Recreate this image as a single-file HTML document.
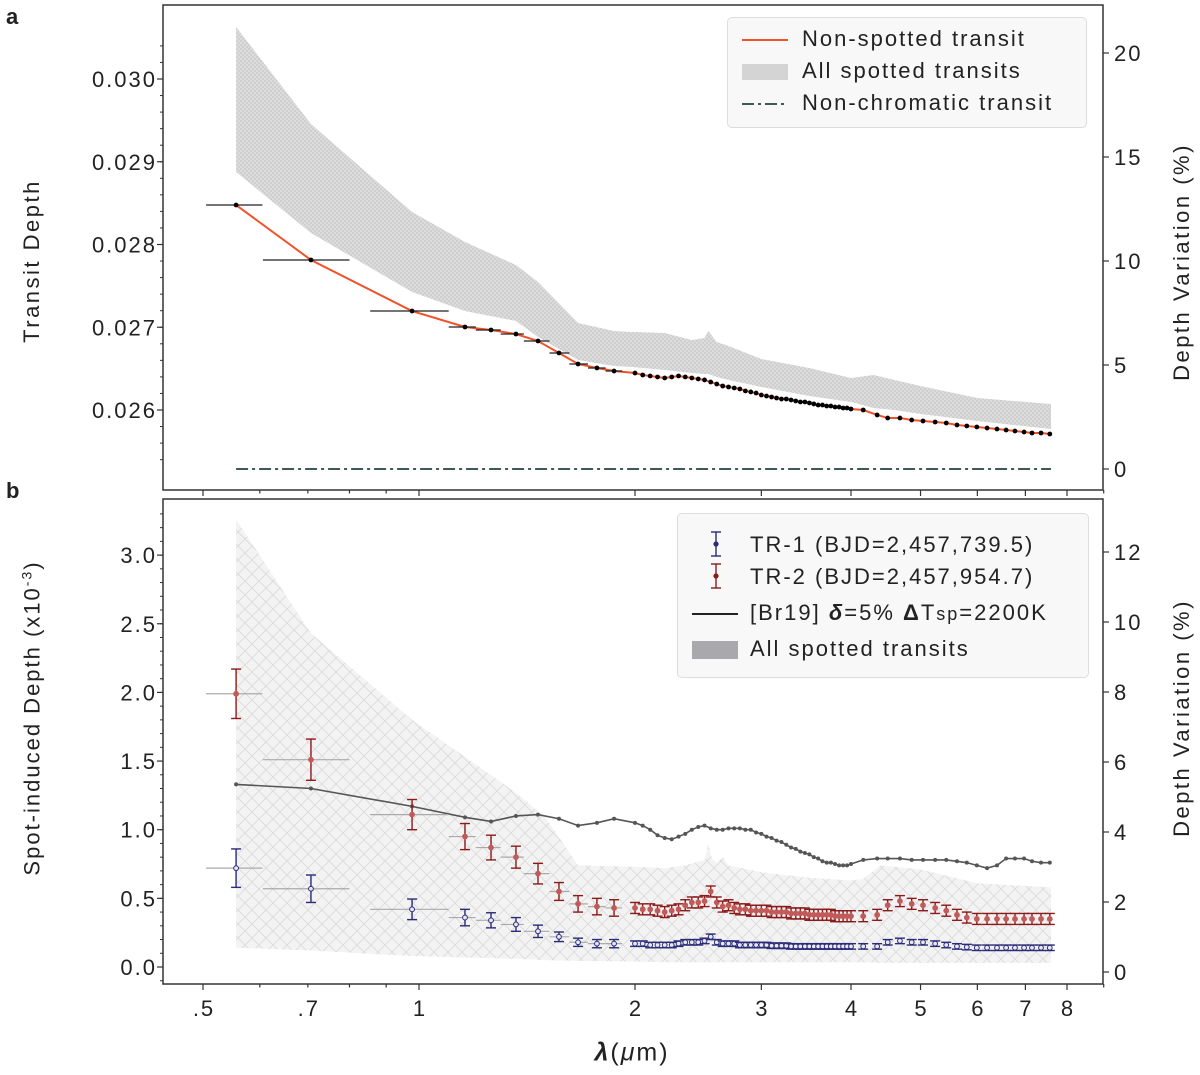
<!DOCTYPE html>
<html><head><meta charset="utf-8"><style>
body{margin:0;background:#fff;}
svg{display:block;font-family:"Liberation Sans",sans-serif;}
svg text{letter-spacing:2px;}
</style></head><body>
<svg id="fig" width="1200" height="1075" viewBox="0 0 1200 1075">
<defs>
<pattern id="checkA" width="4" height="4" patternUnits="userSpaceOnUse">
<rect width="4" height="4" fill="#dcdcdc"/><rect width="2" height="2" fill="#cfcfcf"/><rect x="2" y="2" width="2" height="2" fill="#cfcfcf"/>
</pattern>
<pattern id="crossB" width="14" height="14" patternUnits="userSpaceOnUse">
<rect width="14" height="14" fill="#f3f3f3"/><path d="M0 0L14 14M14 0L0 14" stroke="#dadada" stroke-width="0.8"/>
</pattern>
</defs>
<g id="root"></g>
</svg>
<script>
// ---- Panel a data ----
const lamEarly = [0.556,0.707,0.978,1.159,1.26,1.365,1.465,1.567,1.666,1.77,1.87];
const lamLo = [0.505,0.606,0.855,1.10,1.20,1.30,1.40,1.52,1.62,1.72,1.82];
const lamHi = [0.605,0.80,1.10,1.20,1.30,1.40,1.52,1.62,1.72,1.82,1.92];
const lamDense = [2.00,2.05,2.10,2.15,2.20,2.25,2.30,2.35,2.40,2.45,2.50,2.55,2.60,2.65,2.70,2.75,2.80,2.85,2.90,2.95,3.00,3.05,3.10,3.15,3.20,3.25,3.30,3.35,3.40,3.45,3.50,3.55,3.60,3.65,3.70,3.75,3.80,3.85,3.90,3.95,4.00];
const lamLate = [4.16,4.35,4.50,4.68,4.86,5.04,5.24,5.43,5.62,5.80,5.99,6.19,6.39,6.58,6.77,6.97,7.15,7.36,7.57];
const depthEarly = [0.028477,0.027813,0.027196,0.027003,0.026967,0.026918,0.026834,0.026689,0.026556,0.026508,0.026471];
const depthDense = [0.026447,0.026423,0.026411,0.026399,0.026387,0.026399,0.026411,0.026399,0.026387,0.026375,0.026363,0.026338,0.026314,0.026290,0.026278,0.026266,0.026254,0.026230,0.026218,0.026205,0.026181,0.026169,0.026157,0.026145,0.026133,0.026133,0.026121,0.026109,0.026097,0.026097,0.026085,0.026073,0.026060,0.026060,0.026048,0.026048,0.026036,0.026036,0.026024,0.026024,0.026012];
const depthLate = [0.026000,0.025940,0.025903,0.025903,0.025879,0.025867,0.025855,0.025843,0.025819,0.025807,0.025795,0.025782,0.025770,0.025758,0.025746,0.025734,0.025722,0.025722,0.025710];
const bandALam = [0.556,0.707,0.978,1.159,1.365,1.465,1.666,1.87,1.98,2.2,2.4,2.5,2.53,2.6,2.7,3.0,3.5,4.0,4.3,4.6,5.0,6.0,7.6];
const bandAUpper = [0.030628,0.029456,0.028393,0.028030,0.027752,0.027547,0.027051,0.026955,0.026943,0.026931,0.026846,0.026870,0.026955,0.026822,0.026773,0.026616,0.026508,0.026387,0.026423,0.026363,0.026290,0.026145,0.026073];
const bandALower = [0.028876,0.028139,0.027426,0.027196,0.027076,0.026882,0.026604,0.026532,0.026520,0.026483,0.026447,0.026435,0.026435,0.026399,0.026363,0.026278,0.026169,0.026097,0.026024,0.026000,0.025952,0.025867,0.025770];
const nonChromLam = [0.556,7.6];
const nonChromPct = [0,0];
const aLeftTicks = [0.026,0.027,0.028,0.029,0.030];
const aLeftLabels = ["0.026","0.027","0.028","0.029","0.030"];
const aRightTicks = [0,5,10,15,20];
// ---- Panel b data ----
const tr2Early = [1.99,1.51,1.11,0.95,0.87,0.80,0.68,0.55,0.46,0.44,0.43];
const tr2EarlyErr = [0.18,0.15,0.11,0.095,0.09,0.08,0.075,0.065,0.06,0.06,0.06];
const tr1Early = [0.72,0.57,0.42,0.36,0.34,0.31,0.26,0.22,0.18,0.17,0.17];
const tr1EarlyErr = [0.14,0.10,0.075,0.06,0.055,0.05,0.045,0.035,0.03,0.03,0.03];
const modelEarly = [1.33,1.30,1.17,1.09,1.06,1.10,1.11,1.08,1.03,1.05,1.08];
const tr2Dense = [0.43,0.42,0.42,0.41,0.40,0.41,0.42,0.45,0.47,0.47,0.48,0.55,0.47,0.44,0.45,0.43,0.42,0.42,0.41,0.41,0.41,0.41,0.40,0.40,0.40,0.40,0.39,0.39,0.39,0.39,0.38,0.38,0.38,0.38,0.38,0.38,0.37,0.37,0.37,0.37,0.37];
const tr1Dense = [0.17,0.17,0.16,0.16,0.16,0.16,0.17,0.18,0.18,0.18,0.19,0.22,0.18,0.17,0.17,0.17,0.16,0.16,0.16,0.16,0.16,0.16,0.155,0.155,0.155,0.155,0.15,0.15,0.15,0.15,0.15,0.15,0.15,0.15,0.15,0.15,0.15,0.15,0.15,0.15,0.15];
const modelDense = [1.05,1.03,1.00,0.96,0.94,0.93,0.95,0.97,1.00,1.02,1.03,1.01,1.00,1.00,1.01,1.01,1.01,1.00,1.00,0.98,0.97,0.95,0.94,0.92,0.91,0.89,0.87,0.86,0.84,0.83,0.82,0.80,0.79,0.77,0.76,0.76,0.75,0.74,0.74,0.74,0.75];
const tr2Late = [0.37,0.38,0.45,0.48,0.46,0.45,0.43,0.41,0.38,0.36,0.35,0.35,0.35,0.35,0.35,0.35,0.35,0.35,0.35];
const tr1Late = [0.15,0.15,0.18,0.19,0.18,0.18,0.17,0.16,0.15,0.145,0.14,0.14,0.14,0.14,0.14,0.14,0.14,0.14,0.14];
const modelLate = [0.78,0.79,0.79,0.79,0.78,0.78,0.78,0.78,0.77,0.76,0.74,0.72,0.74,0.79,0.79,0.79,0.77,0.76,0.76];
const bandBLam = [0.556,0.707,0.978,1.365,1.5,1.666,1.98,2.2,2.35,2.5,2.53,2.56,2.6,2.65,2.7,3.0,3.5,4.0,4.15,4.4,5.0,6.0,7.6];
const bandBUpper = [3.26,2.43,1.80,1.27,1.09,0.74,0.73,0.72,0.74,0.78,0.89,0.79,0.76,0.80,0.74,0.69,0.65,0.63,0.64,0.74,0.71,0.61,0.58];
const bandBLower = [0.14,0.12,0.08,0.06,0.05,0.045,0.04,0.035,0.035,0.035,0.035,0.035,0.035,0.035,0.035,0.035,0.035,0.035,0.035,0.03,0.03,0.03,0.03];
const bLeftTicks = [0,0.5,1.0,1.5,2.0,2.5,3.0];
const bLeftLabels = ["0.0","0.5","1.0","1.5","2.0","2.5","3.0"];
const bRightTicks = [0,2,4,6,8,10,12];
const xTickVals = [0.5,0.7,1,2,3,4,5,6,7,8];
const xTickLabels = [".5",".7","1","2","3","4","5","6","7","8"];

// ---- scales ----
const NS="http://www.w3.org/2000/svg";
const root=document.getElementById('root');
const xs = l => 419 + 216*Math.log2(l);
const yA = d => 410 - (d-0.026)*82750;
const yAr = p => 469 - 20.8*p;
const yB = v => 967 - 137.3*v;
const yBr = p => 972 - 35*p;
function mk(tag, attrs, parent, text){
  const e=document.createElementNS(NS,tag);
  for(const k in attrs) e.setAttribute(k,attrs[k]);
  if(text!==undefined) e.textContent=text;
  (parent||root).appendChild(e);
  return e;
}
function grp(name){const g=mk('g',{});
  
  
  return g;}

const PX0=163, PX1=1103, AT=5, AB=490, BT=499, BB=984;
const lamAll=lamEarly.concat(lamDense,lamLate);

// ===== Panel a =====
const gA=grp('panel-a');
const bandA=grp('band-a-spotted');gA.appendChild(bandA);
let pts=bandALam.map((l,i)=>xs(l)+','+yA(bandAUpper[i]));
pts=pts.concat(bandALam.map((l,i)=>xs(l)+','+yA(bandALower[i])).reverse());
mk('polygon',{points:pts.join(' '),fill:'url(#checkA)'},bandA);
const ncA=grp('non-chromatic-line');gA.appendChild(ncA);
mk('line',{x1:xs(nonChromLam[0]),x2:xs(nonChromLam[1]),y1:yAr(nonChromPct[0]),y2:yAr(nonChromPct[1]),stroke:'#3e5a55','stroke-width':2,'stroke-dasharray':'12,4,3,4'},ncA);
const depthAll=depthEarly.concat(depthDense,depthLate);
const lineA=grp('non-spotted-line');gA.appendChild(lineA);
mk('polyline',{points:lamAll.map((l,i)=>xs(l)+','+yA(depthAll[i])).join(' '),fill:'none',stroke:'#f0522a','stroke-width':2},lineA);
const xerrA=grp('xerr-a');gA.appendChild(xerrA);
lamEarly.forEach((l,i)=>{mk('line',{x1:xs(lamLo[i]),x2:xs(lamHi[i]),y1:yA(depthEarly[i]),y2:yA(depthEarly[i]),stroke:'#222','stroke-width':1.3},xerrA);});
const dotsA=grp('transit-points');gA.appendChild(dotsA);
lamAll.forEach((l,i)=>{const c=mk('circle',{cx:xs(l),cy:yA(depthAll[i]),r:2.4,fill:'#000'},dotsA);
  
  });

// ===== Panel b =====
const gB=grp('panel-b');
const bandB=grp('band-b-spotted');gB.appendChild(bandB);
pts=bandBLam.map((l,i)=>xs(l)+','+yB(bandBUpper[i]));
pts=pts.concat(bandBLam.map((l,i)=>xs(l)+','+yB(bandBLower[i])).reverse());
mk('polygon',{points:pts.join(' '),fill:'url(#crossB)'},bandB);
const modelAll=modelEarly.concat(modelDense,modelLate);
const modelG=grp('br19-model-line');gB.appendChild(modelG);
mk('polyline',{points:lamAll.map((l,i)=>xs(l)+','+yB(modelAll[i])).join(' '),fill:'none',stroke:'#555','stroke-width':1.6},modelG);
lamAll.forEach((l,i)=>{mk('circle',{cx:xs(l),cy:yB(modelAll[i]),r:2,fill:'#555'},modelG);});
const xerrB=grp('xerr-b');gB.appendChild(xerrB);
lamEarly.forEach((l,i)=>{[tr1Early[i],tr2Early[i]].forEach(v=>{mk('line',{x1:xs(lamLo[i]),x2:xs(lamHi[i]),y1:yB(v),y2:yB(v),stroke:'#aaa','stroke-width':1.2},xerrB);});});
function series(name,vals,errs,ecol,mcol,fillc){
  const g=grp(name);gB.appendChild(g);
  lamAll.forEach((l,i)=>{
    const x=xs(l),v=vals[i],e=errs[i];
    mk('line',{x1:x,x2:x,y1:yB(v-e),y2:yB(v+e),stroke:ecol,'stroke-width':1.4},g);
    mk('line',{x1:x-5,x2:x+5,y1:yB(v-e),y2:yB(v-e),stroke:ecol,'stroke-width':1.4},g);
    mk('line',{x1:x-5,x2:x+5,y1:yB(v+e),y2:yB(v+e),stroke:ecol,'stroke-width':1.4},g);
    const c=mk('circle',{cx:x,cy:yB(v),r:2.4,fill:fillc,stroke:mcol,'stroke-width':1},g);
    
    
  });
}
const tr2Vals=tr2Early.concat(tr2Dense,tr2Late);
const tr2Errs=tr2EarlyErr.concat(tr2Dense.map(()=>0.04),tr2Late.map(()=>0.04));
const tr1Vals=tr1Early.concat(tr1Dense,tr1Late);
const tr1Errs=tr1EarlyErr.concat(tr1Dense.map(()=>0.02),tr1Late.map(()=>0.02));
series('tr2-series',tr2Vals,tr2Errs,'#8b1a1a','#c25a5a','#c25a5a');
series('tr1-series',tr1Vals,tr1Errs,'#2b2b78','#2b2b78','#e8e8f4');

// ===== Frames & axes =====
function frame(name,t,b){const g=grp(name);
  mk('rect',{x:PX0,y:t,width:PX1-PX0,height:b-t,fill:'none',stroke:'#333','stroke-width':1.5},g);return g;}
const fA=frame('frame-a',AT,AB), fB=frame('frame-b',BT,BB);
function xAxis(g,b,labels){
  const minors=[0.5,0.6,0.7,0.8,0.9,1,2,3,4,5,6,7,8,9];
  minors.forEach(l=>{const major=[0.5,1,2,3,4,5,6,7,8].includes(l);
    mk('line',{x1:xs(l),x2:xs(l),y1:b,y2:b+(major?6:3.5),stroke:'#333','stroke-width':1.2},g);});
  if(labels) xTickVals.forEach((l,i)=>{mk('text',{x:xs(l)+1,y:1016,'text-anchor':'middle','font-size':22,fill:'#222'},g,xTickLabels[i]);});
}
xAxis(fA,AB,false);xAxis(fB,BB,true);
aLeftTicks.forEach((d,i)=>{mk('line',{x1:PX0-6,x2:PX0,y1:yA(d),y2:yA(d),stroke:'#333','stroke-width':1.2},fA);
  mk('text',{x:157,y:yA(d)+8,'text-anchor':'end','font-size':22,fill:'#222'},fA,aLeftLabels[i]);});
for(let d=0.0254;d<=0.0305;d+=0.0002){const y=yA(d);if(y>AT&&y<AB)mk('line',{x1:PX0-3,x2:PX0,y1:y,y2:y,stroke:'#333','stroke-width':1},fA);}
aRightTicks.forEach(p=>{mk('line',{x1:PX1,x2:PX1+6,y1:yAr(p),y2:yAr(p),stroke:'#333','stroke-width':1.2},fA);
  mk('text',{x:1114,y:yAr(p)+8,'font-size':22,fill:'#222'},fA,String(p));});
bLeftTicks.forEach((v,i)=>{mk('line',{x1:PX0-6,x2:PX0,y1:yB(v),y2:yB(v),stroke:'#333','stroke-width':1.2},fB);
  mk('text',{x:157,y:yB(v)+8,'text-anchor':'end','font-size':22,fill:'#222'},fB,bLeftLabels[i]);});
for(let v=-0.1;v<=3.4;v+=0.1){const y=yB(v);if(y>BT&&y<BB)mk('line',{x1:PX0-3,x2:PX0,y1:y,y2:y,stroke:'#333','stroke-width':1},fB);}
bRightTicks.forEach(p=>{mk('line',{x1:PX1,x2:PX1+6,y1:yBr(p),y2:yBr(p),stroke:'#333','stroke-width':1.2},fB);
  mk('text',{x:1114,y:yBr(p)+8,'font-size':22,fill:'#222'},fB,String(p));});
</script>
<div style="position:absolute;left:0;top:0;width:1200px;height:1075px;pointer-events:none;font-family:'Liberation Sans',sans-serif;color:#222;letter-spacing:2px;">
<div style="position:absolute;left:6px;top:4px;font-size:22px;font-weight:bold;">a</div>
<div style="position:absolute;left:6px;top:478px;font-size:22px;font-weight:bold;">b</div>
<div style="position:absolute;left:32px;top:261px;transform:translate(-50%,-50%) rotate(-90deg);font-size:22px;white-space:nowrap;letter-spacing:2.5px;">Transit Depth</div>
<div style="position:absolute;left:1182px;top:262px;transform:translate(-50%,-50%) rotate(-90deg);font-size:22px;white-space:nowrap;letter-spacing:2.5px;">Depth Variation (%)</div>
<div style="position:absolute;left:32px;top:718px;transform:translate(-50%,-50%) rotate(-90deg);font-size:22px;white-space:nowrap;letter-spacing:2px;">Spot-induced Depth (x10<sup style="font-size:14px">-3</sup>)</div>
<div style="position:absolute;left:1182px;top:718px;transform:translate(-50%,-50%) rotate(-90deg);font-size:22px;white-space:nowrap;letter-spacing:2.5px;">Depth Variation (%)</div>
<div style="position:absolute;left:632px;top:1053px;transform:translate(-50%,-50%);font-size:25px;white-space:nowrap;"><b><i>λ</i></b>(<i>μ</i>m)</div>

<div style="position:absolute;left:727px;top:17px;width:358px;height:109px;background:rgba(248,248,248,0.95);border:1px solid #ddd;border-radius:5px;font-size:22px;">
 <div style="position:absolute;left:14px;top:8px;white-space:nowrap;"><span style="display:inline-block;width:46px;border-top:2px solid #f0522a;vertical-align:middle;margin-right:14px;"></span>Non-spotted transit</div>
 <div style="position:absolute;left:14px;top:40px;white-space:nowrap;"><span style="display:inline-block;width:46px;height:16px;background:#d4d4d4;vertical-align:middle;margin-right:14px;"></span>All spotted transits</div>
 <div style="position:absolute;left:14px;top:72px;white-space:nowrap;"><svg width="46" height="4" style="display:inline-block;vertical-align:middle;margin-right:14px;"><line x1="0" y1="2" x2="46" y2="2" stroke="#3e5a55" stroke-width="2" stroke-dasharray="12,4,3,4"/></svg>Non-chromatic transit</div>
</div>
<div style="position:absolute;left:677px;top:513px;width:410px;height:163px;background:rgba(248,248,248,0.95);border:1px solid #ddd;border-radius:5px;font-size:22px;">
 <div style="position:absolute;left:72px;top:18px;white-space:nowrap;">TR-1 (BJD=2,457,739.5)</div>
 <svg style="position:absolute;left:30px;top:16px;" width="16" height="28"><line x1="8" y1="2" x2="8" y2="26" stroke="#2b2b78" stroke-width="1.4"/><line x1="3" y1="2" x2="13" y2="2" stroke="#2b2b78" stroke-width="1.4"/><line x1="3" y1="26" x2="13" y2="26" stroke="#2b2b78" stroke-width="1.4"/><circle cx="8" cy="14" r="2.6" fill="#2b2b78"/></svg>
 <div style="position:absolute;left:72px;top:50px;white-space:nowrap;">TR-2 (BJD=2,457,954.7)</div>
 <svg style="position:absolute;left:30px;top:48px;" width="16" height="28"><line x1="8" y1="2" x2="8" y2="26" stroke="#8b1a1a" stroke-width="1.4"/><line x1="3" y1="2" x2="13" y2="2" stroke="#8b1a1a" stroke-width="1.4"/><line x1="3" y1="26" x2="13" y2="26" stroke="#8b1a1a" stroke-width="1.4"/><circle cx="8" cy="14" r="2.6" fill="#8b1a1a"/></svg>
 <div style="position:absolute;left:14px;top:86px;white-space:nowrap;"><span style="display:inline-block;width:46px;border-top:2px solid #222;vertical-align:middle;margin-right:12px;"></span>[Br19] <b><i>δ</i></b>=5% <b>Δ</b>T<span style="font-size:18px">sp</span>=2200K</div>
 <div style="position:absolute;left:14px;top:122px;white-space:nowrap;"><span style="display:inline-block;width:46px;height:18px;background:#a9a9ad;vertical-align:middle;margin-right:12px;"></span>All&nbsp;spotted&nbsp;transits</div>
</div>
</div>
</body></html>
